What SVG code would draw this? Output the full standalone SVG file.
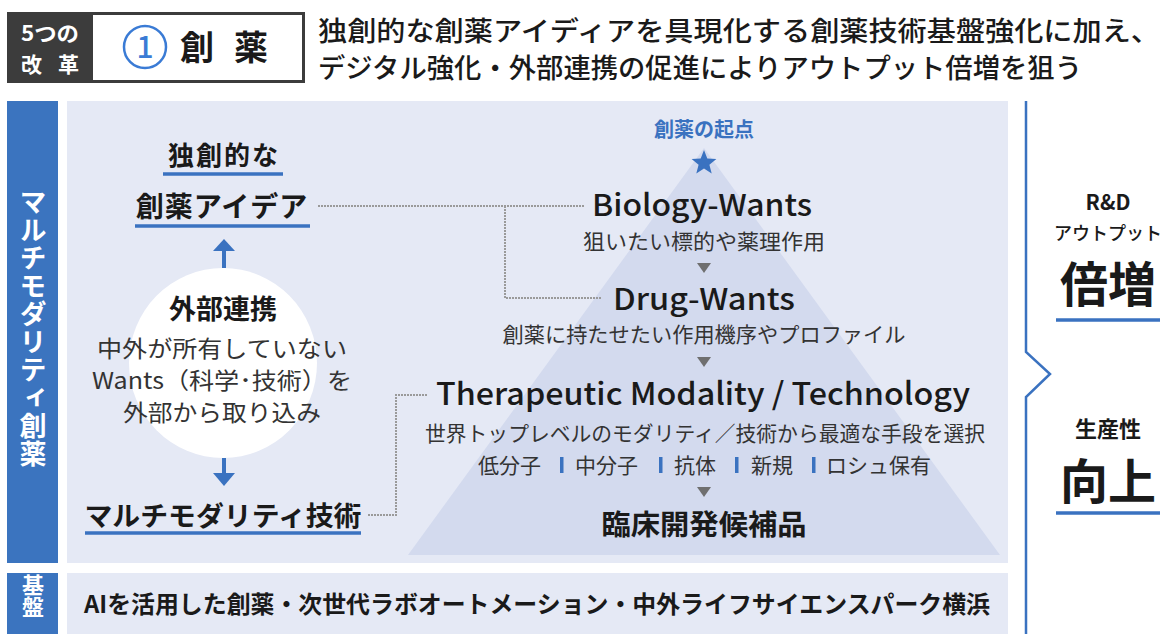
<svg xmlns="http://www.w3.org/2000/svg" width="1166" height="634" viewBox="0 0 1166 634">
<style>
text{font-family:"Noto Sans CJK JP","Noto Sans",sans-serif;fill:#1a1a1a}
.b{font-weight:700}
.m{font-weight:500}
.c{text-anchor:middle}
.g{fill:#333}
.w{fill:#fff}
.blue{fill:#3a72c0}
.ul{stroke:#3a72c0;stroke-width:3.5}
.conn{fill:none;stroke:#9a9a9a;stroke-width:2;stroke-dasharray:2 1}
.tri{fill:#6f6f6f}
.vt{writing-mode:vertical-rl;glyph-orientation-vertical:0}
</style>
<rect width="1166" height="634" fill="#fff"/>
<g id="header">
<rect x="7" y="12" width="298" height="71" fill="#3c3c3c"/>
<rect x="93" y="15" width="209" height="65" fill="#fff"/>
<text x="50" y="41" class="b c w" font-size="21" textLength="58" lengthAdjust="spacingAndGlyphs">5つの</text>
<text x="50" y="72" class="b c w" font-size="21" textLength="58" lengthAdjust="spacing">改革</text>
<circle cx="145" cy="47" r="21" fill="none" stroke="#3a7bd5" stroke-width="2.5"/>
<text x="145" y="58" class="m c" font-size="30" style="fill:#3a7bd5">1</text>
<text x="180" y="60" class="b" font-size="34" textLength="88" lengthAdjust="spacing">創薬</text>
<text x="318" y="41" class="m" font-size="27" textLength="842" lengthAdjust="spacingAndGlyphs">独創的な創薬アイディアを具現化する創薬技術基盤強化に加え、</text>
<text x="318" y="78" class="m" font-size="27" textLength="764" lengthAdjust="spacingAndGlyphs">デジタル強化・外部連携の促進によりアウトプット倍増を狙う</text>
</g>
<g id="panels">
<rect x="7" y="101" width="51" height="462" fill="#3b74bf"/>
<rect x="67" y="101" width="941" height="462" fill="#e5e9f5"/>
<rect x="7" y="573" width="51" height="61" fill="#3b74bf"/>
<rect x="67" y="573" width="941" height="61" fill="#e5e9f5"/>
<polygon points="704,148 1000,555 408,555" fill="#d3daee"/>
</g>
<g id="side-label">
<text x="33" y="188" class="b w vt" font-size="27" letter-spacing="1">マルチモダリティ創薬</text>
<text x="33" y="574" class="b w vt" font-size="22">基盤</text>
</g>
<g id="connectors">
<path class="conn" d="M318 206 H585"/>
<path class="conn" d="M505 206 V298 H602"/>
<path class="conn" d="M368 515 H396 V395 H428"/>
<path d="M224 268 V248" stroke="#3a72c0" stroke-width="4"/>
<polygon points="213,251 235,251 224,239" fill="#3a72c0"/>
<path d="M224 458 V476" stroke="#3a72c0" stroke-width="4"/>
<polygon points="213,473 235,473 224,486" fill="#3a72c0"/>
<polygon class="tri" points="697,263 711,263 704,273"/>
<polygon class="tri" points="697,357 711,357 704,367"/>
<polygon class="tri" points="697,487 711,487 704,497"/>
</g>
<g id="node-idea">
<text x="224" y="165" class="b c" font-size="26" letter-spacing="2">独創的な</text>
<line x1="163" y1="174" x2="283" y2="174" class="ul"/>
<text x="222" y="217" class="b c" font-size="28" letter-spacing="1">創薬アイデア</text>
<line x1="135" y1="226" x2="310" y2="226" class="ul"/>
</g>
<g id="node-external">
<ellipse cx="223" cy="363" rx="94" ry="95" fill="#fff"/>
<text x="223" y="319" class="b c" font-size="27">外部連携</text>
<text x="222" y="357" class="c g" font-size="23" textLength="250" lengthAdjust="spacingAndGlyphs">中外が所有していない</text>
<text x="222" y="389" class="c g" font-size="23" textLength="260" lengthAdjust="spacingAndGlyphs">Wants（科学･技術）を</text>
<text x="222" y="421" class="c g" font-size="23" textLength="198" lengthAdjust="spacingAndGlyphs">外部から取り込み</text>
</g>
<g id="node-multimodality">
<text x="223" y="526" class="b c" font-size="27" textLength="277" lengthAdjust="spacingAndGlyphs">マルチモダリティ技術</text>
<line x1="85" y1="533" x2="361" y2="533" class="ul"/>
</g>
<g id="node-pyramid">
<text x="704" y="137" class="b c blue" font-size="20">創薬の起点</text>
<polygon points="704,150 707.3,158.4 716.4,158.9 709.4,164.7 711.7,173.6 704,168.6 696.3,173.6 698.6,164.7 691.6,158.9 700.7,158.4" fill="#3a72c0"/>
<text x="702" y="216" class="m c" font-size="30" textLength="220" lengthAdjust="spacingAndGlyphs">Biology-Wants</text>
<text x="704" y="249" class="c g" font-size="21" textLength="242" lengthAdjust="spacingAndGlyphs">狙いたい標的や薬理作用</text>
<text x="704" y="310" class="m c" font-size="30" textLength="182" lengthAdjust="spacingAndGlyphs">Drug-Wants</text>
<text x="704" y="342" class="c g" font-size="21" textLength="403" lengthAdjust="spacingAndGlyphs">創薬に持たせたい作用機序やプロファイル</text>
<text x="703" y="405" class="m c" font-size="31" textLength="534" lengthAdjust="spacingAndGlyphs">Therapeutic Modality / Technology</text>
<text x="705" y="441" class="c g" font-size="21" textLength="560" lengthAdjust="spacingAndGlyphs">世界トップレベルのモダリティ／技術から最適な手段を選択</text>
<text x="478" y="473" class="g" font-size="21">低分子</text>
<rect x="560" y="457" width="3.5" height="16" fill="#3a72c0"/>
<text x="575" y="473" class="g" font-size="21">中分子</text>
<rect x="659" y="457" width="3.5" height="16" fill="#3a72c0"/>
<text x="674" y="473" class="g" font-size="21">抗体</text>
<rect x="735" y="457" width="3.5" height="16" fill="#3a72c0"/>
<text x="751" y="473" class="g" font-size="21">新規</text>
<rect x="812" y="457" width="3.5" height="16" fill="#3a72c0"/>
<text x="826" y="473" class="g" font-size="21">ロシュ保有</text>
<text x="704" y="535" class="b c" font-size="28" textLength="205" lengthAdjust="spacingAndGlyphs">臨床開発候補品</text>
</g>
<g id="node-foundation">
<text x="84" y="613" class="b" font-size="24" textLength="906" lengthAdjust="spacingAndGlyphs">AIを活用した創薬・次世代ラボオートメーション・中外ライフサイエンスパーク横浜</text>
</g>
<g id="brace">
<path d="M1026 101 V352 L1050 374 L1026 397 V634" fill="none" stroke="#3a72c0" stroke-width="2.5"/>
</g>
<g id="node-output">
<text x="1108" y="210" class="b c" font-size="21">R&amp;D</text>
<text x="1108" y="240" class="m c" font-size="18">アウトプット</text>
<text x="1108" y="302" class="b c" font-size="48">倍増</text>
<line x1="1056" y1="320" x2="1160" y2="320" class="ul" stroke-width="4"/>
</g>
<g id="node-productivity">
<text x="1108" y="437" class="b c" font-size="22">生産性</text>
<text x="1108" y="499" class="b c" font-size="48">向上</text>
<line x1="1056" y1="513" x2="1160" y2="513" class="ul" stroke-width="4"/>
</g>
</svg>
